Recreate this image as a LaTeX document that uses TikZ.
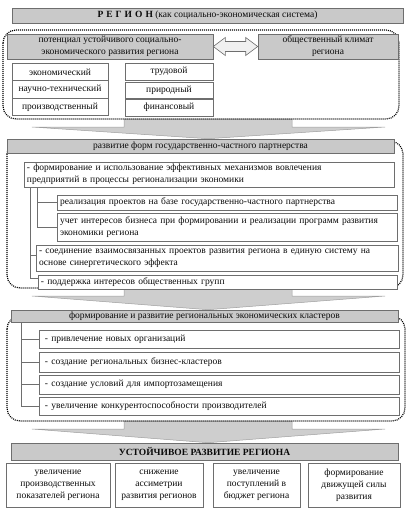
\documentclass[tikz,border=0pt]{standalone}
\usepackage{fontspec}
\setmainfont{Liberation Serif}
\usetikzlibrary{calc}
\definecolor{gfill}{RGB}{201,201,201}
\definecolor{bord}{RGB}{110,110,110}
\definecolor{afill}{RGB}{206,206,206}
\definecolor{txt}{RGB}{10,10,10}
\newcommand\regarrow[2]{%
  \draw[bigarr] ($(#1)+(-84,0)$) -- ($(#1)+(-84,8)$) -- ($(#1)+(-176,8)$) -- (#2.north -| #1)
    -- ($(#1)+(177,8)$) -- ($(#1)+(84,8)$) -- ($(#1)+(84,0)$) -- cycle;}
\begin{document}
\begin{tikzpicture}[x=1pt,y=-1pt,
  font=\fontsize{9.5}{12}\selectfont, text=txt,
  gbox/.style={draw=bord, fill=gfill, line width=0.6pt, inner sep=0pt, align=center},
  wbox/.style={draw=bord, fill=white, line width=0.6pt, inner sep=0pt, align=center},
  lbox/.style={draw=bord, fill=white, line width=0.6pt, inner xsep=3pt, inner ysep=0pt, align=left},
  cbox/.style={draw=bord, fill=white, line width=0.6pt, inner xsep=6pt, inner ysep=0pt, align=left, text width=348pt},
  dotreg/.style={draw=black, line width=1.2pt, dash pattern=on 1pt off 1pt, rounded corners=13pt},
  conn/.style={draw=bord, line width=0.6pt},
  bigarr/.style={fill=afill, draw=gray!75, line width=0.5pt}]
\useasboundingbox (0,0) rectangle (411,515);

% region coordinates (arrow roots)
\coordinate (r1b) at (208,119);
\coordinate (r2b) at (208,288);
\coordinate (r3b) at (208,421);

% title
\node[gbox, minimum width=391pt, minimum height=15pt] (title) at (207.5,15.5)
  {{\bfseries Р\hspace{3pt}Е\hspace{3pt}Г\hspace{3pt}И\hspace{3pt}О\hspace{3pt}Н} (как социально-экономическая система)};

% ---------- section 1
\node[gbox, minimum width=387pt, minimum height=14pt] (g2) at (200.5,146) {развитие форм государственно-частного партнерства};
\regarrow{r1b}{g2}
\draw[dotreg] (3,30) rectangle (399,119);
\node[gbox, minimum width=206pt, minimum height=25pt] (pot) at (110,46.5)
  {потенциал устойчивого социально-\\экономического развития региона};
\node[gbox, minimum width=140pt, minimum height=25pt] (clim) at (328,46.5)
  {общественный климат\\региона};
\draw[fill=gray!12, draw=bord, line width=0.6pt] (pot.east) -- ++(12,-9) -- ++(0,4)
  -- ($(clim.west)+(-12,-5)$) -- ++(0,-4) -- (clim.west) -- ++(-12,9) -- ++(0,-4)
  -- ($(pot.east)+(12,5)$) -- ++(0,4) -- cycle;
\node[wbox, minimum width=96pt, minimum height=17.5pt] (p1) at (60,72) {экономический};
\node[wbox, minimum width=96pt, minimum height=17.5pt] (p2) at (60,89.5) {научно-технический};
\node[wbox, minimum width=96pt, minimum height=17.5pt] (p3) at (60,107) {производственный};
\node[wbox, minimum width=88pt, minimum height=17pt] (t1) at (169,71.5) {трудовой};
\node[wbox, minimum width=88pt, minimum height=16pt] (t2) at (169,90) {природный};
\node[wbox, minimum width=88pt, minimum height=17pt] (t3) at (169,107.5) {финансовый};

% ---------- section 2
\node[gbox, minimum width=387pt, minimum height=12pt] (g3) at (204.5,316) {формирование и развитие региональных экономических кластеров};
\regarrow{r2b}{g3}
\draw[dotreg] (7,141) rectangle (403,288);
\node[gbox, minimum width=387pt, minimum height=14pt] at (g2) {развитие форм государственно-частного партнерства};
\node[lbox, text width=364pt, minimum height=25pt] (b1) at (209,174.5)
  {- формирование и использование эффективных механизмов вовлечения\\предприятий в процессы регионализации экономики};
\node[lbox, text width=334pt, minimum height=15pt] (b2) at (227,202.5)
  {реализация проектов на базе государственно-частного партнерства};
\node[lbox, text width=334pt, minimum height=28pt] (b3) at (227,227)
  {учет интересов бизнеса при формировании и реализации программ развития\\экономики региона};
\node[lbox, text width=356pt, minimum height=26pt] (b4) at (217,258)
  {- соединение взаимосвязанных проектов развития региона в единую систему на\\основе синергетического эффекта};
\node[lbox, text width=353pt, minimum height=14pt] (b5) at (217.5,282.5)
  {- поддержка интересов общественных групп};
\draw[conn] ($(b1.south west)+(7,0)$) |- ($(b5.west)+(0,-4)$);
\draw[conn] ($(b1.south west)+(7,0)$) |- ($(b4.west)+(0,-3)$);
\draw[conn] ($(b1.south west)+(14,0)$) |- (b3.west);
\draw[conn] ($(b1.south west)+(14,0)$) |- (b2.west);

% ---------- section 3
\node[gbox, minimum width=387pt, minimum height=17pt] (g4) at (204.5,451.5) {\bfseries УСТОЙЧИВОЕ РАЗВИТИЕ РЕГИОНА};
\regarrow{r3b}{g4}
\draw[dotreg] (7,316) rectangle (405,421);
\node[gbox, minimum width=387pt, minimum height=12pt] at (g3) {формирование и развитие региональных экономических кластеров};
\node[cbox, minimum height=18pt] (c1) at (219,339) {- привлечение новых организаций};
\node[cbox, minimum height=20pt] (c2) at (219,362) {- создание региональных бизнес-кластеров};
\node[cbox, minimum height=19pt] (c3) at (219,384.5) {- создание условий для импортозамещения};
\node[cbox, minimum height=18pt] (c4) at (219,406) {- увеличение конкурентоспособности производителей};
\draw[conn] ($(g3.south west)+(11,0)$) |- (c4.west);
\draw[conn] ($(g3.south west)+(11,0)$) |- (c3.west);
\draw[conn] ($(g3.south west)+(11,0)$) |- (c2.west);
\draw[conn] ($(g3.south west)+(11,0)$) |- (c1.west);

% ---------- results
\node[wbox, minimum width=104pt, minimum height=44pt] (d1) at (58,485) {увеличение\\производственных\\показателей региона};
\node[wbox, minimum width=88pt, minimum height=44pt] (d2) at (159,485) {снижение\\ассиметрии\\развития регионов};
\node[wbox, minimum width=87pt, minimum height=44pt] (d3) at (256.5,485) {увеличение\\поступлений в\\бюджет региона};
\node[wbox, minimum width=92pt, minimum height=44pt] (d4) at (354,485) {формирование\\движущей силы\\развития};
\end{tikzpicture}
\end{document}
